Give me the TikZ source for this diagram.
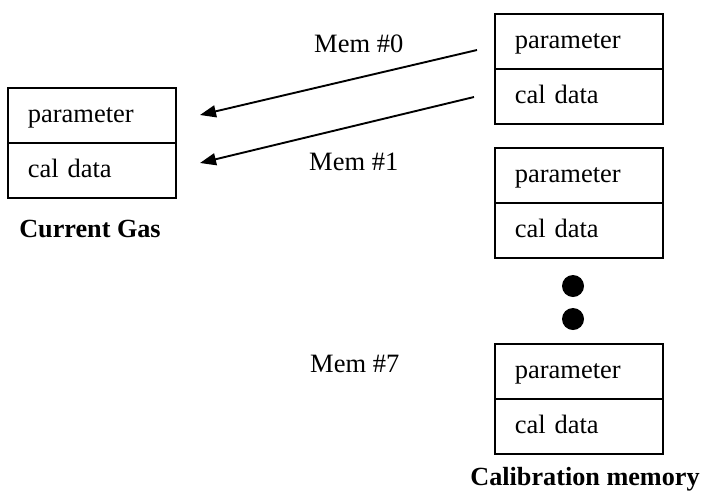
\documentclass[tikz,border=0pt]{standalone}
\usepackage{fontspec}
\setmainfont{Liberation Serif}
\usetikzlibrary{arrows.meta}
\begin{document}
\begin{tikzpicture}[x=1pt,y=-1pt,
  every node/.style={font=\fontsize{26.5}{30}\selectfont},
  cell/.style={draw, line width=1.6pt, anchor=north west, minimum height=55pt,
    text width=128pt, inner xsep=20pt, inner ysep=0pt, align=left,
    text height=20pt, text depth=5pt},
  lbl/.style={anchor=base west, inner sep=0pt},
  title/.style={anchor=base, inner sep=0pt, font=\fontsize{26.2}{30}\selectfont\bfseries},
  conn/.style={line width=1.9pt, -{Triangle[length=16pt,width=12pt]}},
  dot/.style={circle, fill=black, inner sep=0pt, minimum size=22pt}]
\useasboundingbox (0,0) rectangle (701,491);
% current gas
\node[cell] (gp) at (7,87) {parameter};
\node[cell] (gc) at (7,142) {cal data};
\node[title] (gt) at (90,237) {Current Gas};
% calibration memory
\node[cell] (m0p) at (494,13) {parameter};
\node[cell] (m0c) at (494,68) {cal data};
\node[cell] (m1p) at (494,147) {parameter};
\node[cell] (m1c) at (494,202) {cal data};
\node[cell] (m7p) at (494,343) {parameter};
\node[cell] (m7c) at (494,398) {cal data};
\node[title] (mt) at (585,485) {Calibration memory};
\node[dot] (d1) at (573,286) {};
\node[dot] (d2) at (573,319) {};
% labels
\node[lbl] (l0) at (314,52) {Mem \#0};
\node[lbl] (l1) at (309,170) {Mem \#1};
\node[lbl] (l7) at (310,372) {Mem \#7};
% arrows
\coordinate (s0) at (477,50);
\coordinate (e0) at (200,115);
\coordinate (s1) at (474,97);
\coordinate (e1) at (200,163);
\draw[conn] (s0) -- (e0);
\draw[conn] (s1) -- (e1);
\end{tikzpicture}
\end{document}
